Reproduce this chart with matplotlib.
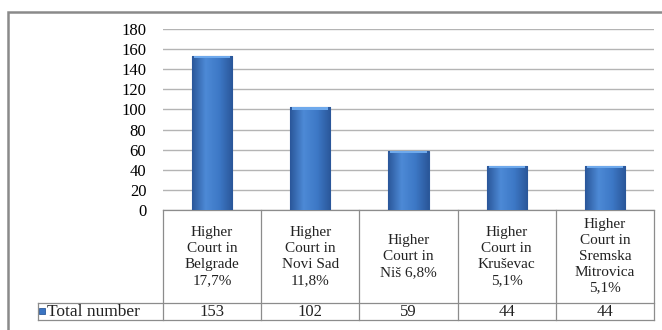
import numpy as np
import matplotlib.pyplot as plt
from matplotlib.colors import LinearSegmentedColormap
from matplotlib.patches import Rectangle

categories = ["Higher\nCourt in\nBelgrade\n17,7%",
              "Higher\nCourt in\nNovi Sad\n11,8%",
              "Higher\nCourt in\nNiš 6,8%",
              "Higher\nCourt in\nKruševac\n5,1%",
              "Higher\nCourt in\nSremska\nMitrovica\n5,1%"]
values = [153, 102, 59, 44, 44]
series_name = "Total number"
yticks = [0, 20, 40, 60, 80, 100, 120, 140, 160, 180]

plt.rcParams['font.family'] = ['Liberation Serif', 'DejaVu Serif']

W, H = 662, 330
fig = plt.figure(figsize=(W / 100, H / 100), dpi=100)
# plot area in pixels: x 163..654, y 29..210
ax = fig.add_axes([163/W, (H - 210)/H, 491/W, 181/H])

x = np.arange(len(values))
bars = ax.bar(x, values, width=0.41, color='#3b74c2', edgecolor='#2b5a9c',
              linewidth=0.8, zorder=3)

# horizontal gradient on each bar (dark edges, light centre)
cmap = LinearSegmentedColormap.from_list('cyl', ['#2a5699', '#4d8ad6', '#3d78c6', '#2a5699'])
grad = np.linspace(0, 1, 256).reshape(1, -1)
for b in bars:
    x0, w, h = b.get_x(), b.get_width(), b.get_height()
    im = ax.imshow(grad, extent=[x0, x0 + w, 0, h], aspect='auto', cmap=cmap,
                   zorder=4, origin='lower')
    im.set_clip_path(b)
    # light top cap
    ax.add_patch(Rectangle((x0 + w*0.05, h - 2.2), w*0.9, 2.2, color='#6ea9ec',
                           zorder=5, linewidth=0))

ax.set_xlim(-0.5, len(values) - 0.5)
ax.set_ylim(0, 180)
ax.set_yticks(yticks)
ax.set_yticklabels([str(t) for t in yticks], fontsize=12)
ax.tick_params(axis='y', length=0, pad=12)
ax.set_xticks([])
ax.grid(axis='y', color='#b4b4b4', linewidth=1.0, zorder=0)
for s in ['left', 'right', 'top', 'bottom']:
    ax.spines[s].set_visible(False)

# data table underneath
tr = ax.get_xaxis_transform()
line_kw = dict(color='#8c8c8c', linewidth=0.9, transform=tr, clip_on=False)
y_top, y_mid, y_bot = 0.0, -93/181, -110/181
x_leg = -0.5 - 125/98.2
ax.plot([-0.5, len(values) - 0.5], [y_top, y_top], **line_kw)
ax.plot([x_leg, len(values) - 0.5], [y_mid, y_mid], **line_kw)
ax.plot([x_leg, len(values) - 0.5], [y_bot, y_bot], **line_kw)
ax.plot([x_leg, x_leg], [y_mid, y_bot], **line_kw)
for b in np.arange(len(values) + 1) - 0.5:
    ax.plot([b, b], [y_top, y_bot], **line_kw)

for i, (c, v) in enumerate(zip(categories, values)):
    ax.text(i, y_mid / 2, c, transform=tr, ha='center', va='center',
            fontsize=11, linespacing=1.28, color='#222222')
    ax.text(i, (y_mid + y_bot) / 2, str(v), transform=tr, ha='center',
            va='center', fontsize=12, color='#222222')

ax.add_patch(Rectangle((x_leg + 0.01, (y_mid + y_bot) / 2 - 0.012), 0.06, 0.034,
                       transform=tr, clip_on=False, facecolor='#3b74c2',
                       edgecolor='#2b5a9c', linewidth=0.6))
ax.text(x_leg + 0.09, (y_mid + y_bot) / 2, series_name, transform=tr,
        ha='left', va='center', fontsize=12.5, color='#222222')

# outer chart frame (right and bottom run off the image)
fig.add_artist(Rectangle((8/W, -0.05), 1.0, 1.05 - 12/H, transform=fig.transFigure,
                         fill=False, edgecolor='#8a8a8a', linewidth=1.8))

fig.savefig('out.png', dpi=100)
